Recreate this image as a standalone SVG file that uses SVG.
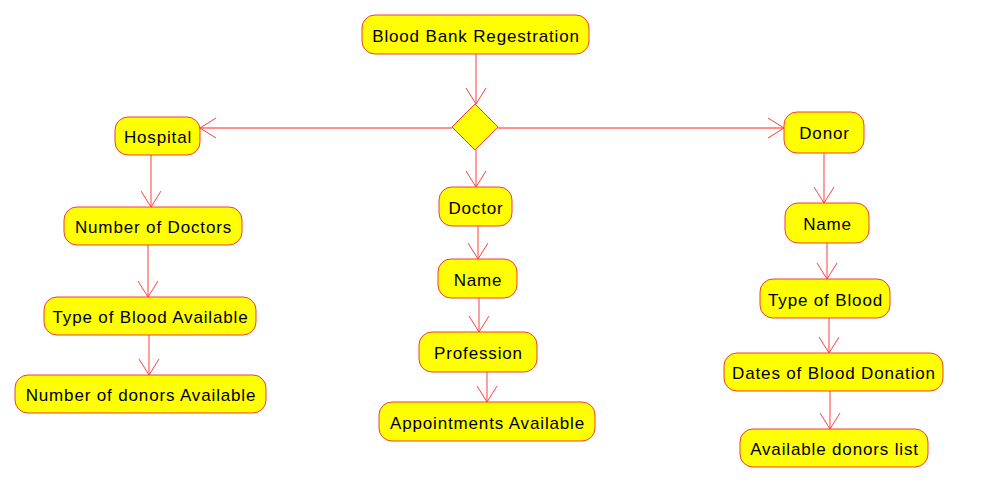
<svg xmlns="http://www.w3.org/2000/svg" width="994" height="502" viewBox="0 0 994 502">
<defs>
<style>
.n rect{fill:#FFFF00;stroke:#F03C3C;stroke-width:1}
.n polygon{fill:#FFFF00;stroke:#F03C3C;stroke-width:1}
.n text{font-family:"Liberation Sans",Arial,sans-serif;font-size:17px;letter-spacing:0.85px;fill:#000;text-anchor:middle}
.c line{stroke:#FF6B6B;stroke-width:1.3;fill:none;marker-end:url(#ah)}
</style>
<marker id="ah" viewBox="-17 -11 18 22" markerWidth="18" markerHeight="22" refX="0" refY="0" orient="auto" markerUnits="userSpaceOnUse">
<path d="M-16,-10 L0,0 L-16,10" fill="none" stroke="#FF4040" stroke-width="1"/>
</marker>
</defs>
<rect width="994" height="502" fill="#FFFFFF"/>
<g id="connectors" class="c">
<line x1="476" y1="54" x2="476" y2="104"/>
<line x1="452" y1="128" x2="200" y2="128"/>
<line x1="498" y1="128" x2="784" y2="128"/>
<line x1="476" y1="150" x2="476" y2="187"/>
<line x1="151" y1="155" x2="151" y2="207"/>
<line x1="148" y1="245" x2="148" y2="297"/>
<line x1="149" y1="335" x2="149" y2="375"/>
<line x1="478" y1="226" x2="478" y2="259"/>
<line x1="479" y1="298" x2="479" y2="332"/>
<line x1="487" y1="372" x2="487" y2="402"/>
<line x1="824" y1="153" x2="824" y2="203"/>
<line x1="827" y1="243" x2="827" y2="279"/>
<line x1="829" y1="318" x2="829" y2="353"/>
<line x1="830" y1="391" x2="830" y2="429"/>
</g>
<g id="n-start" class="n"><rect x="362" y="15" width="227" height="39" rx="13"/><text x="476" y="42">Blood Bank Regestration</text></g>
<g id="n-decision" class="n"><polygon points="475,104 498,127 475,150 452,127"/></g>
<g id="n-hospital" class="n"><rect x="115" y="117" width="85" height="38" rx="13"/><text x="158" y="142.5">Hospital</text></g>
<g id="n-numdoctors" class="n"><rect x="64" y="207" width="178" height="38" rx="13"/><text x="153.5" y="233">Number of Doctors</text></g>
<g id="n-typeblood-avail" class="n"><rect x="44" y="297" width="212" height="38" rx="13"/><text x="150.5" y="323">Type of Blood Available</text></g>
<g id="n-numdonors" class="n"><rect x="15" y="375" width="251" height="38" rx="13"/><text x="141" y="401">Number of donors Available</text></g>
<g id="n-doctor" class="n"><rect x="439" y="187" width="73" height="39" rx="13"/><text x="476" y="213.5">Doctor</text></g>
<g id="n-doc-name" class="n"><rect x="438" y="259" width="79" height="39" rx="13"/><text x="478" y="286">Name</text></g>
<g id="n-profession" class="n"><rect x="419" y="332" width="118" height="40" rx="13"/><text x="478.5" y="359">Profession</text></g>
<g id="n-appointments" class="n"><rect x="379" y="402" width="216" height="39" rx="13"/><text x="487.5" y="428.5">Appointments Available</text></g>
<g id="n-donor" class="n"><rect x="784" y="112" width="80" height="41" rx="13"/><text x="824.5" y="139">Donor</text></g>
<g id="n-don-name" class="n"><rect x="785" y="203" width="84" height="40" rx="13"/><text x="827.5" y="230">Name</text></g>
<g id="n-typeblood" class="n"><rect x="760" y="279" width="130" height="39" rx="13"/><text x="825.5" y="305.5">Type of Blood</text></g>
<g id="n-dates" class="n"><rect x="724" y="353" width="219" height="38" rx="13"/><text x="834" y="379">Dates of Blood Donation</text></g>
<g id="n-donorslist" class="n"><rect x="740" y="429" width="188" height="38" rx="13"/><text x="834.5" y="455">Available donors list</text></g>
</svg>
